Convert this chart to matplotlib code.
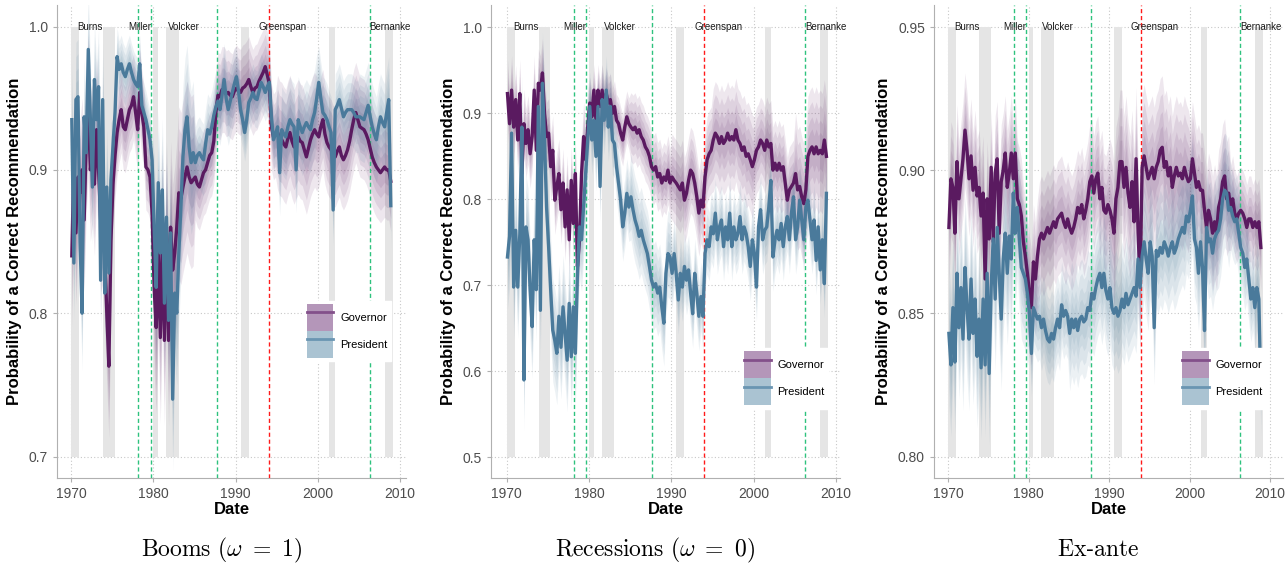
import numpy as np
import matplotlib
matplotlib.use('Agg')
import matplotlib.pyplot as plt
from matplotlib.patches import Patch
from matplotlib.lines import Line2D
from matplotlib.ticker import FormatStrFormatter

plt.rcParams['font.family'] = ['Liberation Sans', 'DejaVu Sans']
plt.rcParams['mathtext.fontset'] = 'cm'

# quarterly estimates, 1970 .. 2008 (4 values per year)
start_year = 1970.1
n_points = 156

booms_gov = [
    0.840, 0.905, 0.856, 0.895,  0.884, 0.900, 0.865, 0.920,  0.944, 0.900, 0.912, 0.890,
    0.928, 0.900, 0.865, 0.870,  0.842, 0.800, 0.763, 0.850,  0.890, 0.910, 0.926, 0.935,
    0.942, 0.930, 0.928, 0.935,  0.942, 0.945, 0.951, 0.940,  0.928, 0.954, 0.940, 0.930,
    0.902, 0.900, 0.895, 0.870,  0.818, 0.790, 0.842, 0.783,  0.853, 0.781, 0.860, 0.781,
    0.860, 0.830, 0.842, 0.860,  0.884, 0.880, 0.888, 0.895,  0.902, 0.895, 0.891, 0.893,
    0.895, 0.890, 0.888, 0.893,  0.898, 0.900, 0.905, 0.910,  0.912, 0.920, 0.940, 0.952,
    0.951, 0.956, 0.956, 0.953,  0.954, 0.952, 0.951, 0.955,  0.957, 0.955, 0.954, 0.957,
    0.958, 0.960, 0.963, 0.958,  0.954, 0.957, 0.958, 0.962,  0.965, 0.968, 0.972, 0.966,
    0.960, 0.930, 0.923, 0.925,  0.926, 0.922, 0.921, 0.918,  0.916, 0.922, 0.926, 0.920,
    0.916, 0.920, 0.923, 0.920,  0.919, 0.914, 0.909, 0.915,  0.921, 0.925, 0.928, 0.925,
    0.923, 0.930, 0.935, 0.925,  0.919, 0.916, 0.914, 0.910,  0.909, 0.913, 0.916, 0.910,
    0.907, 0.910, 0.914, 0.920,  0.928, 0.935, 0.940, 0.935,  0.930, 0.929, 0.928, 0.925,
    0.921, 0.915, 0.909, 0.905,  0.902, 0.900, 0.898, 0.900,  0.902, 0.900, 0.900, 0.892,
]
booms_pres = [
    0.935, 0.835, 0.949, 0.951,  0.850, 0.800, 0.937, 0.912,  0.984, 0.935, 0.888, 0.963,
    0.935, 0.958, 0.823, 0.949,  0.814, 0.888, 0.828, 0.893,  0.916, 0.940, 0.979, 0.970,
    0.974, 0.968, 0.965, 0.970,  0.974, 0.968, 0.963, 0.960,  0.958, 0.974, 0.945, 0.940,
    0.935, 0.928, 0.921, 0.907,  0.860, 0.818, 0.891, 0.842,  0.886, 0.807, 0.867, 0.795,
    0.856, 0.740, 0.814, 0.800,  0.842, 0.874, 0.909, 0.928,  0.937, 0.916, 0.905, 0.912,
    0.905, 0.910, 0.912, 0.909,  0.907, 0.918, 0.928, 0.925,  0.930, 0.938, 0.944, 0.948,
    0.942, 0.952, 0.963, 0.950,  0.942, 0.948, 0.954, 0.960,  0.965, 0.955, 0.942, 0.935,
    0.926, 0.935, 0.947, 0.950,  0.954, 0.950, 0.949, 0.955,  0.961, 0.958, 0.954, 0.958,
    0.961, 0.937, 0.921, 0.925,  0.930, 0.898, 0.928, 0.925,  0.923, 0.930, 0.935, 0.932,
    0.930, 0.900, 0.935, 0.930,  0.926, 0.930, 0.933, 0.930,  0.928, 0.935, 0.940, 0.950,
    0.961, 0.950, 0.940, 0.938,  0.935, 0.930, 0.926, 0.872,  0.942, 0.945, 0.949, 0.943,
    0.937, 0.940, 0.942, 0.942,  0.942, 0.940, 0.937, 0.937,  0.937, 0.936, 0.935, 0.940,
    0.945, 0.937, 0.930, 0.925,  0.921, 0.930, 0.937, 0.933,  0.930, 0.940, 0.949, 0.875,
]
rec_gov = [
    0.923, 0.888, 0.927, 0.884,  0.916, 0.869, 0.923, 0.830,  0.888, 0.865, 0.881, 0.853,
    0.873, 0.927, 0.857, 0.935,  0.927, 0.947, 0.900, 0.873,  0.877, 0.838, 0.857, 0.799,
    0.815, 0.830, 0.788, 0.819,  0.768, 0.811, 0.753, 0.822,  0.772, 0.830, 0.722, 0.753,
    0.830, 0.873, 0.846, 0.884,  0.912, 0.896, 0.927, 0.892,  0.927, 0.908, 0.927, 0.908,
    0.923, 0.912, 0.916, 0.900,  0.908, 0.892, 0.888, 0.877,  0.869, 0.884, 0.896, 0.888,
    0.884, 0.881, 0.884, 0.877,  0.881, 0.873, 0.869, 0.861,  0.857, 0.850, 0.838, 0.834,
    0.838, 0.826, 0.830, 0.819,  0.826, 0.822, 0.834, 0.819,  0.826, 0.822, 0.819, 0.815,
    0.811, 0.819, 0.799, 0.807,  0.822, 0.834, 0.830, 0.819,  0.803, 0.784, 0.799, 0.791,
    0.826, 0.846, 0.853, 0.857,  0.869, 0.877, 0.873, 0.865,  0.873, 0.865, 0.869, 0.877,
    0.869, 0.873, 0.869, 0.881,  0.869, 0.865, 0.857, 0.861,  0.850, 0.853, 0.846, 0.838,
    0.846, 0.857, 0.861, 0.869,  0.865, 0.857, 0.869, 0.861,  0.865, 0.834, 0.842, 0.834,
    0.842, 0.834, 0.838, 0.819,  0.799, 0.811, 0.815, 0.819,  0.830, 0.811, 0.815, 0.803,
    0.795, 0.811, 0.850, 0.857,  0.861, 0.853, 0.861, 0.853,  0.857, 0.853, 0.869, 0.850,
]
rec_pres = [
    0.733, 0.757, 0.877, 0.698,  0.764, 0.698, 0.760, 0.884,  0.590, 0.768, 0.753, 0.695,
    0.652, 0.753, 0.695, 0.908,  0.671, 0.935, 0.869, 0.791,  0.745, 0.695, 0.648, 0.636,
    0.621, 0.664, 0.628, 0.675,  0.644, 0.613, 0.679, 0.617,  0.675, 0.621, 0.714, 0.768,
    0.753, 0.791, 0.830, 0.869,  0.908, 0.869, 0.892, 0.850,  0.908, 0.815, 0.916, 0.892,
    0.927, 0.884, 0.908, 0.869,  0.865, 0.838, 0.819, 0.799,  0.768, 0.784, 0.807, 0.791,
    0.803, 0.788, 0.776, 0.768,  0.757, 0.764, 0.753, 0.745,  0.737, 0.722, 0.706, 0.698,
    0.702, 0.691, 0.698, 0.675,  0.656, 0.714, 0.737, 0.733,  0.714, 0.737, 0.714, 0.683,
    0.714, 0.698, 0.722, 0.706,  0.718, 0.691, 0.667, 0.714,  0.691, 0.664, 0.687, 0.664,
    0.737, 0.753, 0.745, 0.768,  0.760, 0.784, 0.753, 0.768,  0.776, 0.745, 0.768, 0.753,
    0.784, 0.745, 0.768, 0.753,  0.760, 0.780, 0.753, 0.768,  0.760, 0.745, 0.722, 0.753,
    0.737, 0.698, 0.768, 0.788,  0.753, 0.764, 0.768, 0.791,  0.822, 0.733, 0.753, 0.764,
    0.753, 0.772, 0.745, 0.768,  0.780, 0.753, 0.784, 0.803,  0.753, 0.768, 0.799, 0.776,
    0.753, 0.791, 0.799, 0.776,  0.753, 0.776, 0.729, 0.768,  0.718, 0.753, 0.702, 0.807,
]
exa_gov = [
    0.880, 0.897, 0.894, 0.878,  0.903, 0.890, 0.897, 0.904,  0.914, 0.907, 0.897, 0.905,
    0.893, 0.901, 0.891, 0.894,  0.884, 0.892, 0.862, 0.890,  0.876, 0.901, 0.875, 0.899,
    0.904, 0.878, 0.896, 0.900,  0.906, 0.894, 0.899, 0.906,  0.897, 0.906, 0.890, 0.888,
    0.884, 0.875, 0.870, 0.864,  0.857, 0.852, 0.868, 0.862,  0.870, 0.876, 0.878, 0.876,
    0.878, 0.880, 0.878, 0.880,  0.882, 0.880, 0.883, 0.884,  0.885, 0.882, 0.880, 0.883,
    0.880, 0.878, 0.880, 0.883,  0.887, 0.885, 0.888, 0.883,  0.886, 0.890, 0.896, 0.898,
    0.892, 0.897, 0.899, 0.890,  0.894, 0.886, 0.885, 0.888,  0.886, 0.883, 0.878, 0.890,
    0.894, 0.903, 0.903, 0.894,  0.901, 0.892, 0.887, 0.896,  0.882, 0.904, 0.878, 0.861,
    0.901, 0.905, 0.901, 0.897,  0.899, 0.901, 0.897, 0.901,  0.903, 0.907, 0.908, 0.901,
    0.903, 0.898, 0.901, 0.894,  0.898, 0.901, 0.898, 0.899,  0.897, 0.901, 0.898, 0.896,
    0.897, 0.904, 0.899, 0.894,  0.896, 0.893, 0.893, 0.886,  0.880, 0.886, 0.883, 0.878,
    0.882, 0.878, 0.887, 0.890,  0.896, 0.898, 0.890, 0.892,  0.887, 0.890, 0.885, 0.883,
    0.885, 0.886, 0.885, 0.883,  0.880, 0.883, 0.883, 0.880,  0.882, 0.880, 0.882, 0.873,
]
exa_pres = [
    0.843, 0.832, 0.852, 0.833,  0.864, 0.845, 0.859, 0.841,  0.866, 0.852, 0.841, 0.862,
    0.843, 0.855, 0.835, 0.848,  0.831, 0.855, 0.832, 0.864,  0.829, 0.859, 0.876, 0.855,
    0.880, 0.864, 0.848, 0.869,  0.878, 0.864, 0.877, 0.869,  0.892, 0.878, 0.887, 0.876,
    0.866, 0.864, 0.862, 0.857,  0.850, 0.836, 0.852, 0.850,  0.848, 0.849, 0.845, 0.848,
    0.844, 0.841, 0.840, 0.843,  0.841, 0.845, 0.848, 0.845,  0.853, 0.849, 0.851, 0.849,
    0.843, 0.848, 0.845, 0.848,  0.844, 0.848, 0.849, 0.847,  0.848, 0.852, 0.851, 0.857,
    0.855, 0.859, 0.862, 0.864,  0.859, 0.864, 0.858, 0.855,  0.859, 0.852, 0.850, 0.852,
    0.849, 0.851, 0.855, 0.852,  0.857, 0.853, 0.855, 0.857,  0.859, 0.856, 0.869, 0.859,
    0.870, 0.875, 0.869, 0.864,  0.875, 0.870, 0.845, 0.872,  0.870, 0.873, 0.871, 0.875,
    0.873, 0.870, 0.873, 0.875,  0.871, 0.873, 0.876, 0.878,  0.880, 0.878, 0.884, 0.882,
    0.886, 0.891, 0.876, 0.873,  0.864, 0.875, 0.866, 0.844,  0.880, 0.875, 0.876, 0.871,
    0.876, 0.878, 0.879, 0.883,  0.890, 0.893, 0.892, 0.886,  0.887, 0.884, 0.882, 0.883,
    0.878, 0.873, 0.871, 0.866,  0.869, 0.862, 0.855, 0.859,  0.852, 0.859, 0.855, 0.822,
]

# band half-widths per 5-year block (1970-74, 75-79, ..., 2005-08)
block_sizes = [20, 20, 20, 20, 20, 20, 20, 16]
booms_gov_w = [0.050, 0.030, 0.060, 0.030, 0.030, 0.040, 0.035, 0.035]
booms_pres_w = [0.040, 0.020, 0.050, 0.025, 0.020, 0.030, 0.025, 0.030]
rec_gov_w = [0.040, 0.040, 0.030, 0.040, 0.050, 0.060, 0.050, 0.070]
rec_pres_w = [0.060, 0.060, 0.040, 0.050, 0.040, 0.040, 0.040, 0.040]
exa_gov_w = [0.020, 0.020, 0.020, 0.020, 0.025, 0.025, 0.020, 0.015]
exa_pres_w = [0.025, 0.025, 0.015, 0.020, 0.020, 0.020, 0.020, 0.015]

recessions = [(1970.0, 1971.0), (1973.9, 1975.3), (1980.0, 1980.6), (1981.6, 1983.1),
              (1990.6, 1991.6), (2001.4, 2002.1), (2008.1, 2009.1)]
chair_changes = [1978.2, 1979.7, 1987.7, 2006.3]
chair_names = ['Burns', 'Miller', 'Volcker', 'Greenspan', 'Bernanke']
chair_label_x = [1972.3, 1978.3, 1983.7, 1995.7, 2008.8]
red_line = 1994.0

gov_color = '#5a1a60'
pres_color = '#4a7a9b'

panels = [
    dict(gov=booms_gov, pres=booms_pres, gw=booms_gov_w, pw=booms_pres_w,
         ylim=(0.685, 1.015), yticks=[0.7, 0.8, 0.9, 1.0], fmt='%.1f',
         xlim=(1968.3, 2010.7), left=57, leg=(0.69, 0.235), caption=r'$\mathrm{Booms}\ (\omega\ =\ 1)$'),
    dict(gov=rec_gov, pres=rec_pres, gw=rec_gov_w, pw=rec_pres_w,
         ylim=(0.476, 1.026), yticks=[0.5, 0.6, 0.7, 0.8, 0.9, 1.0], fmt='%.1f',
         xlim=(1968.1, 2010.5), left=491, leg=(0.70, 0.135), caption=r'$\mathrm{Recessions}\ (\omega\ =\ 0)$'),
    dict(gov=exa_gov, pres=exa_pres, gw=exa_gov_w, pw=exa_pres_w,
         ylim=(0.7925, 0.9577), yticks=[0.80, 0.85, 0.90, 0.95], fmt='%.2f',
         xlim=(1968.25, 2011.6), left=934, leg=(0.685, 0.135), caption=r'$\mathrm{Ex}$-$\mathrm{ante}$'),
]

W, H = 1285, 564
fig = plt.figure(figsize=(W / 100, H / 100), dpi=100)
dates = start_year + np.arange(n_points) * 0.25

for p in panels:
    ax = fig.add_axes([p['left'] / W, 1 - 478 / H, 349 / W, 473 / H])
    lo, hi = p['yticks'][0], p['yticks'][-1]
    for s, e in recessions:
        ax.bar(s, hi - lo, bottom=lo, width=e - s, align='edge', color='#e5e5e5', lw=0, zorder=1)
    for series, widths, col in [(p['gov'], p['gw'], gov_color), (p['pres'], p['pw'], pres_color)]:
        v = np.array(series)
        w = np.repeat(widths, block_sizes)
        for k in [1.0, 0.75, 0.5, 0.3]:
            ax.fill_between(dates, v - k * w, v + k * w, color=col, alpha=0.1, lw=0, zorder=2)
    for x in chair_changes:
        ax.axvline(x, color='#2ec27e', ls=(0, (3, 2)), lw=1.0, zorder=3)
    ax.axvline(red_line, color='#ff1a1a', ls=(0, (3, 2)), lw=1.0, zorder=3)
    ax.plot(dates, p['gov'], color=gov_color, lw=2.4, zorder=4)
    ax.plot(dates, p['pres'], color=pres_color, lw=2.4, zorder=4)
    for name, x in zip(chair_names, chair_label_x):
        ax.text(x, hi, name, ha='center', va='center', fontsize=7, color='#1a1a1a', zorder=5)

    ax.set_xlim(*p['xlim'])
    ax.set_ylim(*p['ylim'])
    ax.set_xticks([1970, 1980, 1990, 2000, 2010])
    ax.set_yticks(p['yticks'])
    ax.yaxis.set_major_formatter(FormatStrFormatter(p['fmt']))
    ax.grid(True, color='#c8c8c8', ls=(0, (1, 2)), lw=0.8, zorder=0)
    ax.set_axisbelow(True)
    for side in ['top', 'right']:
        ax.spines[side].set_visible(False)
    for side in ['left', 'bottom']:
        ax.spines[side].set_color('#b0b0b0')
    ax.tick_params(colors='#b0b0b0', labelcolor='#4d4d4d', labelsize=10, length=3)
    ax.set_xlabel('Date', fontsize=12, fontweight='bold', labelpad=1)
    ax.set_ylabel('Probability of a Correct Recommendation', fontsize=12, fontweight='bold', labelpad=5)

    handles = [(Patch(facecolor='#b496b9', lw=0), Line2D([], [], color='#83508a', lw=2)),
               (Patch(facecolor='#aac3d2', lw=0), Line2D([], [], color='#6a95b2', lw=2))]
    leg = ax.legend(handles, ['Governor', 'President'], loc='lower left', bbox_to_anchor=p['leg'],
                    fontsize=8, handlelength=2.4, handleheight=3.35, labelspacing=0.0,
                    borderpad=0.3, handletextpad=0.6, frameon=True, fancybox=False)
    leg.get_frame().set_edgecolor('white')
    leg.get_frame().set_facecolor('white')
    leg.get_frame().set_alpha(1)
    leg.set_zorder(6)

    cx = (p['left'] + 349 / 2 - 10) / W
    fig.text(cx, 1 - 550 / H, p['caption'], ha='center', va='center', fontsize=17)

fig.savefig('out.png', dpi=100)
